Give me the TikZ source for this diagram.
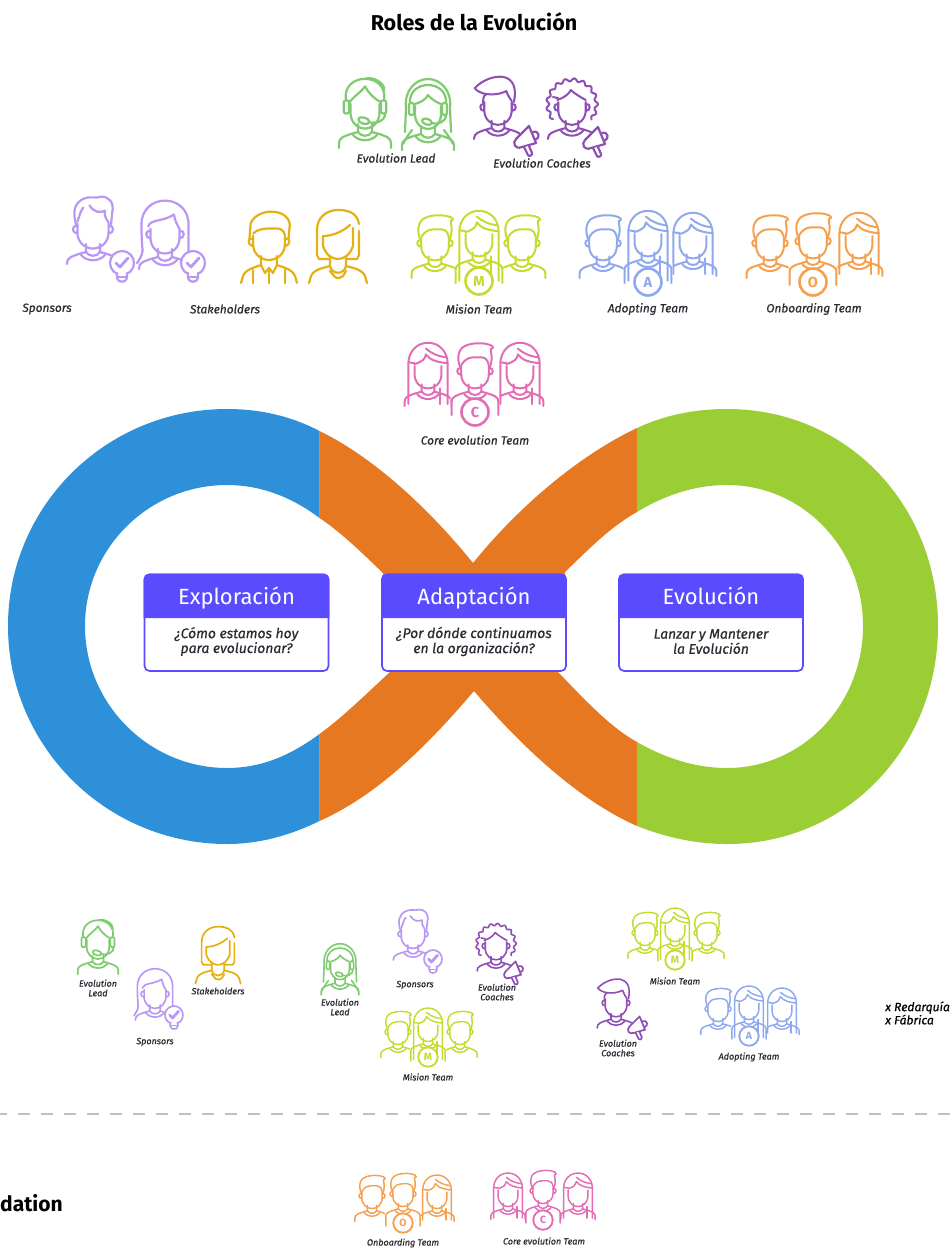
\documentclass[tikz,border=0pt]{standalone}
\usepackage{fontspec}
\setmainfont{Fira Sans}
\newfontfamily\labf[ItalicFeatures={FakeBold=0.6}]{Fira Sans}
\definecolor{cblue}{HTML}{2E90D8}
\definecolor{corange}{HTML}{E67821}
\definecolor{cgreen}{HTML}{9BCD34}
\definecolor{cbox}{HTML}{5B4BFF}
\definecolor{ilead}{HTML}{7FCB70}
\definecolor{icoach}{HTML}{8E4FB5}
\definecolor{ispons}{HTML}{B997F5}
\definecolor{istake}{HTML}{E5B014}
\definecolor{imis}{HTML}{C5DB2E}
\definecolor{iadop}{HTML}{8FA8EE}
\definecolor{ionb}{HTML}{F5A04F}
\definecolor{icore}{HTML}{E26DB5}
\definecolor{labc}{HTML}{2B2B33}
\tikzset{
 lab/.style={font=\labf\itshape\fontsize{11.9}{13}\selectfont,text=labc,inner sep=0pt,align=center},
 labs/.style={font=\labf\itshape\fontsize{9}{9.6}\selectfont,text=labc,inner sep=0pt,align=center},
 cardtitle/.style={font=\fontsize{22}{24}\selectfont,text=white,inner sep=0pt,anchor=base},
 carddesc/.style={font=\labf\itshape\fontsize{13.9}{13.4}\selectfont,text=labc,inner sep=0pt,align=center},
 bigtext/.style={font=\bfseries\fontsize{21.5}{24}\selectfont,text=black,inner sep=0pt},
}
% one icon: x, y, scale, colour, contents
\newcommand{\icon}[5]{\begin{scope}[shift={(#1,#2)},scale=#3,color=#4,line width=#3*2.2pt,line cap=round,line join=round]#5\end{scope}}
\newcommand{\HD}[2]{\begin{scope}[xscale=#1,yscale=1.08]#2\end{scope}}
% body with lower end of the shoulder lines
\newcommand{\Pbody}[1]{
 \draw (-26,#1) -- (-26,35) .. controls (-26,30) and (-22,28) .. (-7,24) -- (-7,16);
 \draw (26,#1) -- (26,35) .. controls (26,30) and (22,28) .. (7,24) -- (7,16);
 \draw (-7,24) .. controls (-4,29) and (4,29) .. (7,24);
 \draw (-12,27) .. controls (-6,34) and (6,34) .. (12,27);
}
\newcommand{\Pface}{
 \draw (-13,-4) -- (-13,4) .. controls (-13,14) and (-6,19) .. (0,19) .. controls (6,19) and (13,14) .. (13,4) -- (13,-4);
}
\newcommand{\Pears}{
 \draw (-13,-2) .. controls (-18,-3) and (-18,5) .. (-13,5);
 \draw (13,-2) .. controls (18,-3) and (18,5) .. (13,5);
}
% team man hair
\newcommand{\Phair}{
 \draw (-14,-3) .. controls (-17,-12) and (-16,-19) .. (-12,-23) .. controls (-6,-28) and (4,-28) .. (10,-27) .. controls (14,-26) and (17,-25) .. (17,-23) .. controls (15,-22) and (14,-21) .. (15,-19) .. controls (16,-14) and (16,-8) .. (14,-3);
 \draw (-13,-5) .. controls (-9,-12) and (-5,-13) .. (-1,-13) -- (6,-13) .. controls (10,-13) and (12,-10) .. (13,-5);
}
\newcommand{\Tman}{\Pbody{40}\HD{1.18}{\Pface\Pears\Phair}}
\newcommand{\TmanC}{\fill[white] (-27,50) -- (-27,30) -- (-19,-27) -- (19,-27) -- (27,30) -- (27,50) -- cycle;\Pbody{50}\HD{1.18}{\Pface\Pears\Phair}}
% long-haired woman
\newcommand{\Whair}[1]{
 \draw (-19,#1) -- (-19,-6) .. controls (-19,-20) and (-10,-28) .. (0,-28) .. controls (10,-28) and (19,-20) .. (19,-6) -- (19,#1);
 \draw (-13,-6) .. controls (-5,-9) and (-3,-11) .. (-2,-16) .. controls (2,-10) and (9,-8) .. (19,-7);
 \draw (-19,-8) -- (-13,-7);
 \draw (-2,-22) .. controls (3,-17) and (10,-14) .. (18,-13);
 \draw (12,19) -- (12,#1);
}
\newcommand{\Twom}{\Pbody{40}\HD{1.15}{\Pface\Whair{35}}}
\newcommand{\TwomC}{\fill[white] (-27,50) -- (-27,30) -- (-22,-27) -- (22,-27) -- (27,30) -- (27,50) -- cycle;\Pbody{50}\HD{1.15}{\Pface\Whair{44}}}
% lead man with headset
\newcommand{\Phone}{
 \draw[fill=white,rounded corners=2] (-19,-7) rectangle (-14,5);
 \draw[fill=white,rounded corners=2] (14,-7) rectangle (19,5);
 \draw (18,5) .. controls (18,12) and (10,15) .. (3,13);
 \draw (-6,10) .. controls (-7,14) and (3,17) .. (4,13) .. controls (4,9) and (-5,7) .. (-6,10);
}
\newcommand{\LeadM}{\Pbody{40}\HD{1.12}{\Pface\Phone
 \draw (-14,-5) .. controls (-9,-12) and (-3,-15) .. (0,-20) .. controls (3,-14) and (8,-9) .. (13,-6);
 \draw (-17,-7) .. controls (-19,-20) and (-10,-27) .. (0,-27) .. controls (10,-27) and (19,-20) .. (17,-7);
 \draw (0,-27) .. controls (8,-30) and (18,-22) .. (17,-17);
}}
\newcommand{\LeadW}{\Pbody{40}
 \draw (-16,20) .. controls (-22,28) and (-24,32) .. (-25,34);
 \draw (16,20) .. controls (22,28) and (24,32) .. (25,34);
 \draw (-22,-2) .. controls (-24,-20) and (-12,-31) .. (0,-31) .. controls (12,-31) and (24,-20) .. (22,-2) -- (23,22);
 \draw (-22,-2) -- (-23,22);
 \draw (-18,-7) .. controls (-19,-18) and (-10,-25) .. (0,-25) .. controls (10,-25) and (19,-18) .. (18,-7);
 \draw (-13,-6) .. controls (-6,-8) and (-2,-11) .. (0,-15) .. controls (3,-11) and (8,-8) .. (13,-6);
 \Pface\Phone
}
% coach man, swept hair
\newcommand{\CoachM}{\Pbody{36}\HD{1.15}{\Pface\Pears
 \draw (-14,-3) .. controls (-14,-8) and (-14,-10) .. (-11,-12) .. controls (-16,-13) and (-20,-15) .. (-22,-18) .. controls (-14,-27) and (-2,-31) .. (6,-29) .. controls (14,-27) and (18,-18) .. (15,-4);
 \draw (-11,-12) .. controls (-4,-11) and (2,-12) .. (8,-15) .. controls (9,-11) and (11,-8) .. (13,-5);
}}
% coach woman, curly hair
\newcommand{\CoachW}{\Pbody{36}\HD{1.15}{\Pface\Pears
 \draw (-14,-6) .. controls (-8,-8) and (-3,-12) .. (-1,-16) .. controls (3,-12) and (8,-9) .. (13,-6);
 \draw (-18,-9) -- (-13,-8);}
 \draw plot[domain=-38:218,samples=160,smooth] ({(26.5+1.6*cos(17*\x))*cos(\x)},{-2-(26.5+1.6*cos(17*\x))*sin(\x)});
}
% sponsors
\newcommand{\SponsM}{\Pbody{36}\HD{1.2}{\Pface\Pears
 \draw (-14,-3) .. controls (-17,-14) and (-16,-23) .. (-8,-27) .. controls (-3,-30) and (2,-27) .. (7,-29) .. controls (13,-29) and (18,-24) .. (16,-14) -- (15,-3);
 \draw (-13,-6) .. controls (-11,-12) and (-10,-17) .. (-8,-19);
 \draw (-3,-21) .. controls (1,-14) and (6,-14) .. (10,-16) .. controls (9,-12) and (11,-8) .. (13,-5);
}}
\newcommand{\SponsW}{\Pbody{36}\HD{1.12}{\Pface\Pears
 \draw (-20,16) .. controls (-21,6) and (-21,-4) .. (-21,-8) .. controls (-21,-22) and (-11,-30) .. (0,-30) .. controls (11,-30) and (21,-22) .. (21,-8) -- (21,20);
 \draw (-20,16) .. controls (-20,21) and (-24,26) .. (-25,28);
 \draw (-15,-6) .. controls (-13,-13) and (-3,-10) .. (8,-17) .. controls (9,-11) and (11,-7) .. (13,-4);
}}
% stakeholders
\newcommand{\StakeM}{
 \draw (-28,43) -- (-26,36) .. controls (-24,31) and (-20,29) .. (-8,25) -- (-8,16);
 \draw (28,43) -- (26,36) .. controls (24,31) and (20,29) .. (8,25) -- (8,16);
 \draw (-8,25) -- (-4,33) -- (0,28) -- (4,33) -- (8,25);
 \draw (0,28) -- (0,43);
 \draw (-16,30) -- (-16,43); \draw (16,30) -- (16,43);
 \begin{scope}[xscale=1.22,yscale=1.05]
 \draw (-13,-4) -- (-13,4) .. controls (-13,14) and (-6,19) .. (0,19) .. controls (6,19) and (13,14) .. (13,4) -- (13,-4);
 \draw (-13,-1) .. controls (-18,-3) and (-18,5) .. (-13,6);
 \draw (13,-1) .. controls (18,-3) and (18,5) .. (13,6);
 \draw (-16,-1) -- (-15,-16) .. controls (-12,-24) and (-4,-27) .. (2,-27) .. controls (10,-27) and (17,-22) .. (17,-14) -- (16,-1);
 \draw (-13,-6) .. controls (-11,-9) and (-6,-11) .. (0,-11) -- (6,-11) .. controls (10,-11) and (12,-9) .. (13,-5);
 \end{scope}
}
\newcommand{\StakeW}{
 \draw (-29,43) -- (-27,36) .. controls (-25,31) and (-20,29) .. (-8,26) -- (-8,17);
 \draw (29,43) -- (27,36) .. controls (25,31) and (20,29) .. (8,26) -- (8,17);
 \draw (-8,26) .. controls (-6,35) and (6,35) .. (8,26);
 \draw (-8,31) -- (-3,37) .. controls (0,39) and (3,38) .. (5,36) -- (8,31);
 \draw (-15,-4) -- (-15,6) .. controls (-12,15) and (-6,19) .. (0,19) .. controls (6,19) and (12,15) .. (15,6) -- (15,-12);
 \draw (-15,-4) .. controls (-6,-4) and (4,-8) .. (12,-15);
 \draw (-8,19) -- (-19,19) -- (-21,15) -- (-21,-10) .. controls (-21,-23) and (-11,-30) .. (0,-30) .. controls (9,-30) and (19,-28) .. (21,-16);
 \draw (21,-9) -- (21,15) -- (19,19) -- (8,19);
}
% accessories
\newcommand{\Mega}{
 \draw[fill=white] (-11,2) -- (2,-11) -- (9,6) -- (-5,10) .. controls (-12,13) and (-15,6) .. (-11,2);
 \draw (6,-5) .. controls (12,-7) and (14,1) .. (8,3);
 \draw[fill=white] (-3,10) -- (1,18) .. controls (2,20) and (6,18) .. (5,16) -- (2,9);
}
\newcommand{\Bulb}{
 \draw[fill=white] (0,0) circle[radius=12];
 \fill[white] (-4,10) rectangle (4,14);
 \draw (-5,10) -- (-5,15) .. controls (-4,20) and (4,20) .. (5,15) -- (5,10);
 \draw (-5,14) -- (5,14);
 \draw[line width=2.8pt] (-6,0) -- (-2,4) -- (6,-5);
}
\newcommand{\Badge}[6]{
 \begin{scope}[shift={(#2,#3)},scale=#4,color=#5,line width=#4*2.6pt]
 \draw[fill=white] (0,0) circle[radius=13.5];
 \end{scope}
 \pgfmathsetmacro\bfs{14.5*#4}
 \node[inner sep=0pt,text=#5,font=\bfseries\fontsize{\bfs}{\bfs}\selectfont] (#1) at (#2,#3) {#6};
}
% card
\newcommand{\Card}[4]{
 \pgfmathsetmacro\xb{#2+184}
 \draw[cbox,fill=white,line width=1.7pt,rounded corners=5] (#2,574.5) rectangle (\xb,671);
 \fill[cbox] (#2-.8,618) [rounded corners=5] -- (#2-.8,573.7) -- (\xb+.8,573.7) [sharp corners] -- (\xb+.8,618) -- cycle;
 \node[cardtitle] (#1t) at (#2+92,604.5) {#3};
 \node[carddesc] (#1d) at (#2+92,641.5) {#4};
}
\begin{document}
\begin{tikzpicture}[x=1pt,y=-1pt]
\useasboundingbox (0,0) rectangle (950,1248);
\fill[white] (0,0) rectangle (950,1248);
\node[bigtext] (title) at (474,22) {Roles de la Evolución};

% infinity
\fill[corange] (319.5,431) .. controls (375,458) and (430,510) .. (473,563)
 .. controls (520,505) and (580,455) .. (637,428) -- (637,512)
 .. controls (610,527) and (588,550) .. (565,572) -- (558,672)
 .. controls (585,700) and (610,727) .. (637,742) -- (637,826)
 .. controls (578,800) and (520,745) .. (474,691)
 .. controls (428,745) and (378,795) .. (319.5,821) -- (319.5,734)
 .. controls (343,717) and (365,695) .. (390,672) -- (383,573)
 .. controls (362,553) and (342,533) .. (319.5,518) -- cycle;
\fill[cblue] (319.5,431) .. controls (291,416) and (260,409) .. (227,409)
 .. controls (106,409) and (8,506) .. (8,626)
 .. controls (8,746) and (106,844) .. (227,844)
 .. controls (260,844) and (291,835) .. (319.5,821) -- (319.5,734)
 .. controls (291,755) and (262,768) .. (227,768)
 .. controls (149,768) and (85,704) .. (85,626)
 .. controls (85,548) and (149,485) .. (227,485)
 .. controls (262,485) and (293,498) .. (319.5,518) -- cycle;
\fill[cgreen] (637,428) .. controls (665,415) and (695,409) .. (727,409)
 .. controls (848,409) and (938,506) .. (938,626)
 .. controls (938,746) and (848,844) .. (727,844)
 .. controls (695,844) and (665,837) .. (637,826) -- (637,742)
 .. controls (665,758) and (695,768) .. (727,768)
 .. controls (803,768) and (863,704) .. (863,626)
 .. controls (863,548) and (803,485) .. (727,485)
 .. controls (695,485) and (665,495) .. (637,512) -- cycle;

\Card{ex}{144.5}{Exploración}{¿Cómo estamos hoy\\para evolucionar?}
\Card{ad}{382}{Adaptación}{¿Por dónde continuamos\\en la organización?}
\Card{ev}{619}{Evolución}{Lanzar y Mantener\\la Evolución}

% top row
\icon{365}{108}{1}{ilead}{\LeadM}
\icon{428}{110}{1}{ilead}{\LeadW}
\icon{498}{106}{.92}{icoach}{\CoachM}
\icon{527}{137}{1}{icoach}{\Mega}
\icon{572}{106}{.92}{icoach}{\CoachW}
\icon{596}{138}{1}{icoach}{\Mega}
\node[lab] (l1) at (396,158) {Evolution Lead};
\node[lab] (l2) at (542,163) {Evolution Coaches};

% second row
\icon{93}{228}{1}{ispons}{\SponsM}
\icon{122}{263}{1}{ispons}{\Bulb}
\icon{165}{233}{1}{ispons}{\SponsW}
\icon{193}{263}{1}{ispons}{\Bulb}
\icon{269}{240}{1}{istake}{\StakeM}
\icon{338}{240}{1}{istake}{\StakeW}
\node[lab] (l3) at (47,309) {Sponsors};
\node[lab] (l4) at (225,309) {Stakeholders};

\icon{435}{242}{.9}{imis}{\Tman}
\icon{522}{242}{.9}{imis}{\Tman}
\icon{479}{238}{.9}{imis}{\TwomC}
\Badge{bm}{479}{281}{1}{imis}{M}
\node[lab] (l5) at (479,309) {Mision Team};

\icon{603}{242}{.9}{iadop}{\Tman}
\icon{693}{240}{.9}{iadop}{\Twom}
\icon{648}{238}{.9}{iadop}{\TwomC}
\Badge{ba}{648}{282}{1}{iadop}{A}
\node[lab] (l6) at (648,309) {Adopting Team};

\icon{770}{242}{.9}{ionb}{\Tman}
\icon{859}{240}{.9}{ionb}{\Twom}
\icon{813}{240}{.9}{ionb}{\TmanC}
\Badge{bo}{813}{282}{1}{ionb}{O}
\node[lab] (l7) at (814,309) {Onboarding Team};

\icon{428}{370}{.9}{icore}{\Twom}
\icon{520}{370}{.9}{icore}{\Twom}
\icon{475}{370}{.9}{icore}{\TmanC}
\Badge{bc}{475}{412}{1}{icore}{C}
\node[lab] (l8) at (475,440) {Core evolution Team};

% lower groups
\icon{98}{943}{.78}{ilead}{\LeadM}
\node[labs] (s1) at (98,988) {Evolution\\Lead};
\icon{155}{993}{.75}{ispons}{\SponsW}
\icon{174}{1015}{.75}{ispons}{\Bulb}
\node[labs] (s2) at (155,1042) {Sponsors};
\icon{218}{950}{.78}{istake}{\StakeW}
\node[labs] (s3) at (218,991) {Stakeholders};

\icon{340}{966}{.72}{ilead}{\LeadW}
\node[labs] (s4) at (340,1007) {Evolution\\Lead};
\icon{413}{933}{.75}{ispons}{\SponsM}
\icon{433}{959}{.75}{ispons}{\Bulb}
\node[labs] (s5) at (415,985) {Sponsors};
\icon{496}{945}{.72}{icoach}{\CoachW}
\icon{514}{970}{.78}{icoach}{\Mega}
\node[labs] (s6) at (497,992) {Evolution\\Coaches};

\icon{398}{1031}{.66}{imis}{\Tman}
\icon{460}{1031}{.66}{imis}{\Tman}
\icon{428}{1028}{.66}{imis}{\TwomC}
\Badge{bm2}{428}{1057}{.72}{imis}{M}
\node[labs] (s7) at (428,1077) {Mision Team};

\icon{645}{932}{.66}{imis}{\Tman}
\icon{707}{932}{.66}{imis}{\Tman}
\icon{675}{928}{.66}{imis}{\TwomC}
\Badge{bm3}{675}{960}{.72}{imis}{M}
\node[labs] (s8) at (675,981) {Mision Team};

\icon{616}{1002}{.72}{icoach}{\CoachM}
\icon{638}{1025}{.78}{icoach}{\Mega}
\node[labs] (s9) at (618,1048) {Evolution\\Coaches};

\icon{718}{1008}{.66}{iadop}{\Tman}
\icon{782}{1008}{.66}{iadop}{\Twom}
\icon{749}{1006}{.66}{iadop}{\TwomC}
\Badge{ba2}{749}{1036}{.72}{iadop}{A}
\node[labs] (s10) at (749,1057) {Adopting Team};

\node[anchor=west,inner sep=0pt,text=black,font=\labf\itshape\fontsize{12.1}{13.2}\selectfont,align=left] (xr) at (885,1013) {x Redarquía\\x Fábrica};

% divider
\coordinate (da) at (-5,1114);
\coordinate (db) at (955,1114);
\draw[color=black!25,line width=1.3pt,dash pattern=on 12pt off 11pt] (da) -- (db);

\node[anchor=west,inner sep=0pt,text=black,font=\bfseries\fontsize{21}{24}\selectfont] (dat) at (0,1203) {dation};

\icon{372}{1195}{.66}{ionb}{\Tman}
\icon{437}{1195}{.66}{ionb}{\Twom}
\icon{403}{1193}{.66}{ionb}{\TmanC}
\Badge{bo2}{403}{1223}{.72}{ionb}{O}
\node[labs] (s11) at (403,1243) {Onboarding Team};

\icon{508}{1193}{.66}{icore}{\Twom}
\icon{578}{1193}{.66}{icore}{\Twom}
\icon{543}{1190}{.66}{icore}{\TmanC}
\Badge{bc2}{543}{1220}{.72}{icore}{C}
\node[labs] (s12) at (544,1241) {Core evolution Team};
\end{tikzpicture}
\end{document}
